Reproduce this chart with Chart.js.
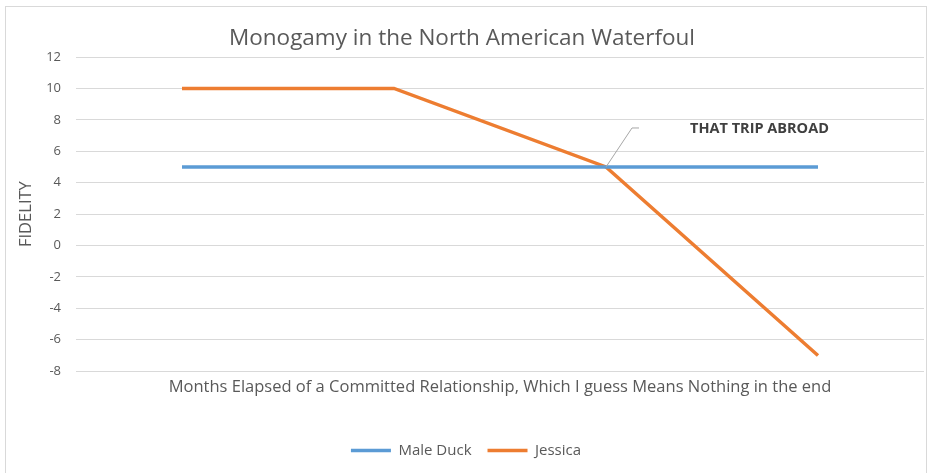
<!DOCTYPE html>
<html>
<head>
<meta charset="utf-8">
<script src="https://cdn.jsdelivr.net/npm/chart.js@4"></script>
<style>
  html, body { margin: 0; padding: 0; background: #fff; }
  #wrap { width: 933px; height: 473px; position: relative; }
</style>
</head>
<body>
<div id="wrap"><canvas id="grafica"></canvas></div>
<script>
// datos
const meses = ["1", "2", "3", "4"];
const maleDuck = [5, 5, 5, 5];
const jessica = [10, 10, 5, -7];
const yTicks = [-8, -6, -4, -2, 0, 2, 4, 6, 8, 10, 12];
const nota = "THAT TRIP ABROAD";
const notaIndex = 2;

const FONT = "'Open Sans', 'Noto Sans', sans-serif";
const GRIS = "#595959";

// marco gris claro alrededor del grafico
const marco = {
  id: "marco",
  beforeDraw(chart) {
    const c = chart.ctx;
    c.save();
    c.strokeStyle = "#d9d9d9";
    c.lineWidth = 1;
    c.strokeRect(5.5, 6.5, 921, 470);
    c.restore();
  }
};

// la leyenda va un poco a la derecha, como en el original
const moverLeyenda = {
  id: "moverLeyenda",
  afterLayout(chart) {
    if (chart.legend) {
      chart.legend.left += 4;
      chart.legend.right += 4;
    }
  }
};

// etiqueta con linea guia en el punto de Jessica
const etiqueta = {
  id: "etiqueta",
  afterDatasetsDraw(chart) {
    const p = chart.getDatasetMeta(1).data[notaIndex];
    if (!p) return;
    const c = chart.ctx;
    c.save();
    c.strokeStyle = "#a6a6a6";
    c.lineWidth = 1;
    c.beginPath();
    c.moveTo(p.x, p.y);
    c.lineTo(p.x + 26, p.y - 39);
    c.lineTo(p.x + 33, p.y - 39);
    c.stroke();
    c.fillStyle = "#404040";
    c.font = "bold 14.5px " + FONT;
    c.textBaseline = "middle";
    c.fillText(nota, p.x + 84, p.y - 38);
    c.restore();
  }
};

new Chart(document.getElementById("grafica"), {
  type: "line",
  data: {
    labels: meses,
    datasets: [
      { label: "Male Duck", data: maleDuck, borderColor: "#5B9BD5", backgroundColor: "#5B9BD5", borderWidth: 3.5, pointRadius: 0, tension: 0 },
      { label: "Jessica", data: jessica, borderColor: "#ED7D31", backgroundColor: "#ED7D31", borderWidth: 3.5, pointRadius: 0, tension: 0 }
    ]
  },
  options: {
    responsive: true,
    maintainAspectRatio: false,
    animation: false,
    layout: { padding: { left: 0, right: 9, top: 0, bottom: 5 } },
    plugins: {
      title: {
        display: true,
        text: "Monogamy in the North American Waterfoul",
        color: GRIS,
        font: { family: FONT, size: 22.5, weight: "normal" },
        padding: { top: 25, bottom: 5 }
      },
      legend: {
        position: "bottom",
        labels: {
          usePointStyle: true,
          pointStyle: "line",
          pointStyleWidth: 40,
          color: GRIS,
          font: { family: FONT, size: 15 },
          padding: 16
        }
      },
      tooltip: { enabled: false }
    },
    scales: {
      x: {
        offset: true,
        grid: { display: false, drawTicks: false },
        border: { display: false },
        ticks: { display: false },
        title: {
          display: true,
          text: "Months Elapsed of a Committed Relationship, Which I guess Means Nothing in the end",
          color: GRIS,
          font: { family: FONT, size: 16.5 },
          padding: { top: 6, bottom: 30 }
        }
      },
      y: {
        min: -8,
        max: 12,
        afterFit(scale) { scale.width = 76; },
        afterBuildTicks(scale) { scale.ticks = yTicks.map(v => ({ value: v })); },
        grid: { color: "#d9d9d9", lineWidth: 1, drawTicks: false },
        border: { display: false },
        ticks: { color: GRIS, font: { family: FONT, size: 13 }, padding: 15 },
        title: {
          display: true,
          text: "FIDELITY",
          color: GRIS,
          font: { family: FONT, size: 16.5 },
          padding: { top: 16, bottom: 0 }
        }
      }
    }
  },
  plugins: [marco, moverLeyenda, etiqueta]
});
</script>
</body>
</html>
